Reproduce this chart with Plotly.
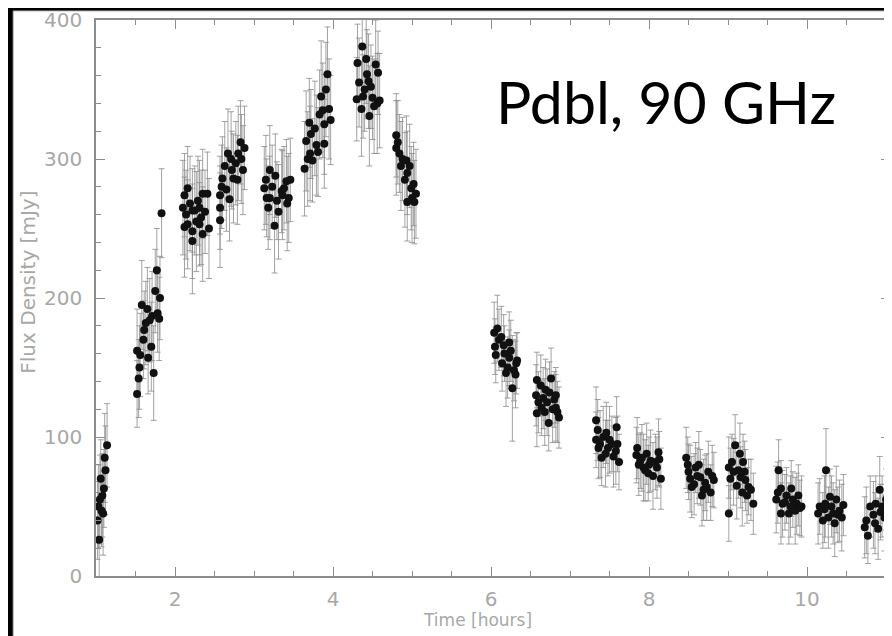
import plotly.graph_objects as go

# Time [hours] (one line per observing scan)
time_hours = [
    1.02, 1.03, 1.04, 1.05, 1.06, 1.07, 1.08, 1.09, 1.10, 1.11, 1.12, 1.14,
    1.52, 1.52, 1.54, 1.55, 1.56, 1.58, 1.60, 1.61, 1.63, 1.65, 1.66, 1.68, 1.70, 1.71, 1.73, 1.75, 1.77, 1.78, 1.80, 1.81, 1.83,
    2.10, 2.12, 2.12, 2.14, 2.16, 2.16, 2.19, 2.22, 2.22, 2.22, 2.25, 2.27, 2.29, 2.31, 2.31, 2.33, 2.35, 2.35, 2.38, 2.41, 2.43,
    2.57, 2.57, 2.57, 2.59, 2.60, 2.63, 2.65, 2.67, 2.69, 2.71, 2.72, 2.74, 2.77, 2.79, 2.80, 2.83, 2.84, 2.86, 2.88,
    3.13, 3.15, 3.16, 3.18, 3.20, 3.20, 3.23, 3.26, 3.27, 3.29, 3.31, 3.35, 3.36, 3.38, 3.41, 3.42, 3.44, 3.46,
    3.64, 3.66, 3.68, 3.70, 3.71, 3.72, 3.74, 3.77, 3.79, 3.81, 3.83, 3.85, 3.87, 3.89, 3.89, 3.91, 3.93, 3.95, 3.97,
    4.30, 4.31, 4.33, 4.36, 4.37, 4.38, 4.40, 4.42, 4.43, 4.45, 4.46, 4.48, 4.50, 4.52, 4.54, 4.56, 4.57, 4.59,
    4.80, 4.80, 4.82, 4.84, 4.86, 4.88, 4.91, 4.93, 4.94, 4.94, 4.97, 4.99, 5.00, 5.02, 5.03, 5.05,
    6.04, 6.05, 6.06, 6.08, 6.10, 6.13, 6.14, 6.16, 6.17, 6.19, 6.21, 6.23, 6.23, 6.25, 6.27, 6.29, 6.31, 6.32, 6.33,
    6.57, 6.58, 6.58, 6.60, 6.63, 6.64, 6.66, 6.68, 6.69, 6.71, 6.73, 6.74, 6.76, 6.78, 6.80, 6.82, 6.82, 6.84, 6.86,
    7.33, 7.33, 7.35, 7.36, 7.38, 7.40, 7.42, 7.45, 7.46, 7.48, 7.50, 7.53, 7.55, 7.58, 7.59, 7.60, 7.62,
    7.84, 7.85, 7.87, 7.89, 7.91, 7.93, 7.95, 7.97, 7.99, 8.00, 8.02, 8.05, 8.08, 8.10, 8.12, 8.13, 8.15,
    8.47, 8.49, 8.50, 8.52, 8.54, 8.57, 8.59, 8.61, 8.63, 8.65, 8.67, 8.69, 8.71, 8.73, 8.75, 8.78, 8.80, 8.82,
    9.01, 9.01, 9.03, 9.05, 9.07, 9.09, 9.11, 9.13, 9.15, 9.16, 9.18, 9.19, 9.21, 9.22, 9.24, 9.26, 9.29, 9.32,
    9.61, 9.63, 9.64, 9.67, 9.67, 9.69, 9.72, 9.74, 9.77, 9.79, 9.80, 9.82, 9.85, 9.87, 9.89, 9.91, 9.93,
    10.14, 10.16, 10.20, 10.22, 10.23, 10.24, 10.27, 10.29, 10.31, 10.33, 10.35, 10.37, 10.39, 10.41, 10.44, 10.46,
    10.73, 10.75, 10.77, 10.80, 10.84, 10.86, 10.87, 10.90, 10.92, 10.93, 10.95, 10.98, 11.00, 11.02, 11.03,
]

# Flux Density [mJy]
flux_mjy = [
    40, 50, 26, 55, 70, 47, 58, 45, 63, 85, 76, 94,
    131, 162, 142, 150, 159, 195, 170, 177, 182, 192, 157, 184, 165, 187, 146, 205, 220, 189, 185, 200, 261,
    265, 274, 251, 260, 253, 279, 268, 248, 241, 263, 263, 255, 270, 265, 253, 258, 275, 246, 262, 275, 250,
    274, 265, 256, 280, 286, 295, 278, 304, 271, 300, 292, 286, 297, 285, 304, 312, 300, 292, 308,
    279, 285, 272, 265, 292, 272, 280, 252, 288, 270, 262, 277, 274, 279, 284, 268, 272, 285,
    293, 313, 300, 326, 304, 318, 299, 322, 310, 305, 332, 345, 335, 325, 311, 350, 361, 336, 328,
    343, 369, 355, 336, 381, 345, 350, 372, 361, 356, 331, 352, 344, 338, 368, 340, 362, 342,
    317, 308, 312, 304, 295, 300, 285, 299, 290, 269, 295, 279, 272, 282, 269, 275,
    175, 165, 159, 178, 170, 172, 153, 166, 160, 146, 150, 157, 168, 162, 135, 148, 145, 153, 155,
    130, 141, 117, 125, 137, 121, 128, 118, 134, 125, 110, 132, 142, 120, 127, 130, 121, 118, 114,
    112, 98, 105, 92, 95, 85, 100, 88, 103, 92, 98, 95, 86, 90, 107, 95, 82,
    87, 92, 80, 83, 85, 78, 76, 88, 74, 80, 83, 72, 82, 78, 89, 84, 70,
    85, 80, 75, 70, 64, 66, 78, 72, 80, 71, 58, 62, 67, 64, 75, 60, 72, 69,
    78, 45, 70, 82, 75, 94, 65, 76, 88, 71, 60, 82, 75, 69, 58, 64, 62, 52,
    55, 60, 76, 63, 45, 52, 53, 58, 45, 50, 63, 55, 47, 52, 58, 49, 50,
    45, 50, 40, 48, 52, 76, 42, 57, 50, 45, 38, 55, 44, 47, 42, 51,
    35, 40, 29, 50, 44, 38, 52, 34, 62, 46, 50, 42, 55, 58, 47,
]

# Error on flux density [mJy]
flux_err = [
    28, 30, 30, 32, 28, 26, 30, 30, 28, 32, 32, 30,
    24, 30, 28, 30, 30, 32, 28, 28, 30, 30, 26, 30, 32, 32, 34, 30, 30, 28, 30, 30, 32,
    34, 30, 36, 32, 32, 30, 34, 34, 38, 30, 32, 36, 32, 34, 30, 34, 32, 34, 30, 30, 36,
    28, 30, 34, 30, 30, 32, 30, 32, 30, 34, 28, 32, 30, 32, 34, 30, 32, 32, 30,
    30, 32, 28, 30, 32, 30, 30, 34, 30, 28, 34, 30, 32, 30, 30, 34, 32, 30,
    34, 36, 34, 32, 34, 32, 30, 34, 36, 32, 32, 40, 34, 36, 32, 34, 34, 36, 32,
    30, 28, 32, 34, 26, 30, 30, 32, 32, 34, 36, 30, 30, 34, 32, 36, 30, 34,
    30, 34, 30, 28, 32, 30, 34, 32, 30, 28, 30, 30, 32, 30, 30, 32,
    22, 20, 20, 24, 22, 22, 20, 22, 20, 24, 22, 20, 22, 22, 38, 22, 24, 22, 20,
    22, 20, 24, 22, 22, 20, 22, 24, 22, 24, 20, 22, 22, 24, 20, 20, 24, 22, 22,
    24, 20, 22, 22, 24, 20, 22, 24, 22, 20, 24, 20, 22, 24, 22, 20, 20,
    20, 22, 22, 20, 24, 24, 22, 22, 20, 20, 22, 24, 20, 22, 24, 20, 22,
    22, 20, 20, 24, 22, 22, 18, 20, 24, 20, 22, 22, 20, 24, 22, 20, 22, 20,
    22, 20, 22, 20, 24, 22, 24, 20, 22, 22, 24, 20, 22, 22, 20, 20, 22, 22,
    24, 22, 22, 20, 22, 24, 20, 20, 22, 22, 20, 20, 24, 22, 22, 20, 22,
    22, 20, 20, 24, 24, 30, 22, 20, 22, 22, 24, 24, 20, 22, 24, 22,
    22, 24, 20, 22, 24, 22, 20, 22, 24, 20, 22, 24, 22, 20, 20,
]

x_ticks = [2, 4, 6, 8, 10]
y_ticks = [0, 100, 200, 300, 400]

assert len(time_hours) == len(flux_mjy) == len(flux_err)

fig = go.Figure()

fig.add_trace(go.Scatter(
    x=time_hours,
    y=flux_mjy,
    mode="markers",
    marker=dict(color="#111111", size=8, line=dict(width=0)),
    error_y=dict(type="data", array=flux_err, visible=True,
                 color="rgba(140,140,140,0.8)", thickness=1, width=3),
    showlegend=False,
    hoverinfo="x+y",
))

axis_col = "#8c8c8c"
lab_col = "#a8a8a8"
tick_font = dict(family="DejaVu Sans, sans-serif", size=20, color=lab_col)

fig.update_xaxes(
    range=[1, 11.05],
    tickvals=x_ticks,
    ticks="inside", ticklen=9, tickwidth=1, tickcolor=axis_col,
    minor=dict(dtick=0.5, tick0=1, ticks="inside", ticklen=5, tickcolor=axis_col, showgrid=False),
    showline=True, linecolor=axis_col, linewidth=1.5,
    mirror="allticks",
    showgrid=False, zeroline=False,
    tickfont=tick_font,
    ticklabelstandoff=4,
    ticklabeloverflow="allow",
)
fig.update_yaxes(
    range=[0, 400],
    tickvals=y_ticks,
    ticks="inside", ticklen=9, tickwidth=1, tickcolor=axis_col,
    minor=dict(dtick=20, tick0=0, ticks="inside", ticklen=5, tickcolor=axis_col, showgrid=False),
    showline=True, linecolor=axis_col, linewidth=1.5,
    mirror="allticks",
    showgrid=False, zeroline=False,
    tickfont=tick_font,
    ticklabelstandoff=8,
    ticklabeloverflow="allow",
)

# page has an 8px body offset: plot area spans page x 96..892, y 19..576
W, H = 884, 628
L, T, B = 88, 11, 60
pw, ph = W - L, H - T - B


def px(xp):
    return (xp - 8 - L) / pw


def py(yp):
    return (H - B - (yp - 8)) / ph


fig.update_layout(
    width=W, height=H,
    margin=dict(l=L, r=0, t=T, b=B, pad=0),
    paper_bgcolor="black",
    plot_bgcolor="white",
    shapes=[dict(
        type="rect", xref="paper", yref="paper", layer="below",
        x0=px(13), x1=1.01, y0=py(640), y1=py(10),
        fillcolor="white", line=dict(color="#bbbbbb", width=1),
    )],
    annotations=[
        dict(text="Pdbl, 90 GHz", xref="paper", yref="paper",
             x=px(495), y=py(101), xanchor="left", yanchor="middle",
             showarrow=False,
             font=dict(family="Lato, Open Sans, sans-serif", size=59, color="black")),
        dict(text="Time [hours]", xref="paper", yref="paper",
             x=px(478), y=py(620), xanchor="center", yanchor="middle",
             showarrow=False,
             font=dict(family="DejaVu Sans, sans-serif", size=17, color=lab_col)),
        dict(text="Flux Density [mJy]", xref="paper", yref="paper",
             x=px(27), y=py(282), xanchor="center", yanchor="middle",
             textangle=-90, showarrow=False,
             font=dict(family="DejaVu Sans, sans-serif", size=20, color=lab_col)),
    ],
)

fig.write_html("out.html")
